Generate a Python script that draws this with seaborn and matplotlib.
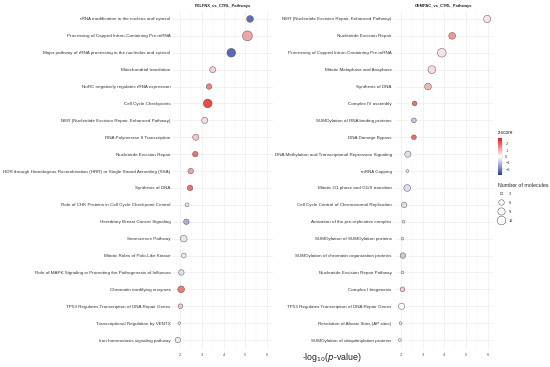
import numpy as np
import pandas as pd
import matplotlib
matplotlib.use("Agg")
import matplotlib.pyplot as plt
import seaborn as sns
from matplotlib.colors import LinearSegmentedColormap, Normalize
from matplotlib.colorbar import ColorbarBase

# ---------------- data ----------------
left_title = "FOLFNX_vs_CTRL_Pathways"
left_pathways = [
    "rRNA modification in the nucleus and cytosol",
    "Processing of Capped Intron-Containing Pre-mRNA",
    "Major pathway of rRNA processing in the nucleolus and cytosol",
    "Mitochondrial translation",
    "NoRC negatively regulates rRNA expression",
    "Cell Cycle Checkpoints",
    "NER (Nucleotide Excision Repair, Enhanced Pathway)",
    "RNA Polymerase II Transcription",
    "Nucleotide Excision Repair",
    "HDR through Homologous Recombination (HRR) or Single Strand Annealing (SSA)",
    "Synthesis of DNA",
    "Role of CHK Proteins in Cell Cycle Checkpoint Control",
    "Hereditary Breast Cancer Signaling",
    "Senescence Pathway",
    "Mitotic Roles of Polo-Like Kinase",
    "Role of MAPK Signaling in Promoting the Pathogenesis of Influenza",
    "Chromatin modifying enzymes",
    "TP53 Regulates Transcription of DNA Repair Genes",
    "Transcriptional Regulation by VENTX",
    "Iron homeostasis signaling pathway",
]
left_logp = [5.21, 5.09, 4.35, 3.50, 3.33, 3.27, 3.13, 2.72, 2.70, 2.49,
             2.46, 2.32, 2.29, 2.17, 2.17, 2.06, 2.05, 2.02, 1.97, 1.90]
left_z = [-2.4, 1.3, -2.5, 0.7, 1.8, 2.6, 0.5, 0.8, 2.0, 1.3,
          2.0, -0.3, -1.3, -0.4, -0.3, -0.5, 1.9, 0.8, -0.2, -0.3]
left_n = [8, 15, 12, 7, 6, 12, 7, 7, 6, 6,
          6, 4, 6, 8, 5, 6, 8, 5, 3, 6]

right_title = "GEMPAC_vs_CTRL_Pathways"
right_pathways = [
    "NER (Nucleotide Excision Repair, Enhanced Pathway)",
    "Nucleotide Excision Repair",
    "Processing of Capped Intron-Containing Pre-mRNA",
    "Mitotic Metaphase and Anaphase",
    "Synthesis of DNA",
    "Complex IV assembly",
    "SUMOylation of RNA binding proteins",
    "DNA Damage Bypass",
    "DNA Methylation and Transcriptional Repression Signaling",
    "mRNA Capping",
    "Mitotic G1 phase and G1/S transition",
    "Cell Cycle Control of Chromosomal Replication",
    "Activation of the pre-replicative complex",
    "SUMOylation of SUMOylation proteins",
    "SUMOylation of chromatin organization proteins",
    "Nucleotide Excision Repair Pathway",
    "Complex I biogenesis",
    "TP53 Regulates Transcription of DNA Repair Genes",
    "Resolution of Abasic Sites (AP sites)",
    "SUMOylation of ubiquitinylation proteins",
]
right_logp = [5.98, 4.36, 3.88, 3.42, 3.24, 2.62, 2.59, 2.59, 2.31, 2.29,
              2.28, 2.14, 2.11, 2.06, 2.08, 2.06, 2.06, 2.02, 1.97, 1.94]
right_z = [0.4, 1.5, 0.4, 0.5, 1.0, 2.0, -0.9, 2.1, -0.5, -0.3,
           -0.5, -0.5, -0.2, -0.2, -0.9, -0.2, 0.8, 0.0, -0.2, -0.2]
right_n = [9, 8, 12, 10, 8, 5, 5, 5, 7, 3,
           8, 6, 3, 3, 6, 3, 5, 7, 3, 3]

legend_sizes = [3, 6, 9, 12]
cbar_ticks = [2, 1, 0, -1, -2]

# ---------------- style ----------------
sns.set_theme(style="white")
plt.rcParams["font.family"] = ["Liberation Sans", "DejaVu Sans"]

cmap = LinearSegmentedColormap.from_list("bwr2", ["#2D3E9E", "#FFFFFF", "#E5201C"])
znorm = Normalize(vmin=-2.9, vmax=2.9)
SMIN, SMAX = 3.8, 50.7
NMIN, NMAX = 3, 15


def size_of(n):
    return SMIN + (n - NMIN) / (NMAX - NMIN) * (SMAX - SMIN)


W, H = 550, 367
fig = plt.figure(figsize=(W / 100, H / 100), dpi=100)
fig.patch.set_facecolor("white")
renderer = fig.canvas.get_renderer()


def fit_size(text, target_px, weight="normal"):
    """font size (pt) so that text spans target_px pixels"""
    t = fig.text(0, 0, text, fontsize=10, fontweight=weight)
    w = t.get_window_extent(renderer=renderer).width
    t.remove()
    return 10 * target_px / w


label_fs = fit_size(left_pathways[9], 165)
title_fs = fit_size(left_title, 57, "bold")
legend_title_fs = fit_size("Number of molecules", 50)

ax_bottom = 1 - 348.5 / H
ax_h = (348.5 - 10.5) / H
axL = fig.add_axes([172.4 / W, ax_bottom, 100.3 / W, ax_h])
axR = fig.add_axes([393.6 / W, ax_bottom, 99.4 / W, ax_h])

panels = [
    (axL, left_title, left_pathways, left_logp, left_z, left_n),
    (axR, right_title, right_pathways, right_logp, right_z, right_n),
]

for ax, title, paths, logp, z, n in panels:
    df = pd.DataFrame({"pathway": paths, "logp": logp, "z": z, "n": n})
    sns.scatterplot(
        data=df, x="logp", y="pathway", hue="z", size="n",
        palette=cmap, hue_norm=znorm, sizes=(SMIN, SMAX),
        size_norm=(NMIN, NMAX), edgecolor="#4a4a4a", linewidth=0.35,
        alpha=0.9, legend=False, ax=ax, zorder=3,
    )
    ax.set_xlim(1.65, 6.25)
    ax.set_ylim(len(paths) - 0.5, -0.5)
    ax.set_xticks([2, 3, 4, 5, 6])
    ax.set_xticks([2.5, 3.5, 4.5, 5.5], minor=True)
    ax.grid(True, which="major", color="#EBEBEB", linewidth=0.45)
    ax.grid(True, which="minor", axis="x", color="#F3F3F3", linewidth=0.3)
    ax.set_axisbelow(True)
    for s in ax.spines.values():
        s.set_visible(False)
    ax.tick_params(axis="y", labelsize=label_fs, pad=1.4, length=0, colors="#333333")
    ax.tick_params(axis="x", labelsize=3.0, pad=3.0, length=0, colors="#555555")
    ax.set_xlabel("")
    ax.set_ylabel("")
    ax.set_title(title, fontsize=title_fs, fontweight="bold", pad=2.2, color="#222222")

fig.text(332 / W, 1 - 357 / H, r"-log$_{10}$($p$-value)", fontsize=6.3,
         ha="center", va="center", color="#222222")

# colorbar
cax = fig.add_axes([497.7 / W, 1 - 175 / H, 4.6 / W, 36.7 / H])
cb = ColorbarBase(cax, cmap=cmap, norm=znorm, orientation="vertical")
cb.set_ticks(cbar_ticks)
cb.outline.set_visible(False)
cax.tick_params(labelsize=2.9, length=1.0, width=0.3, pad=1.2, colors="#444444")
fig.text(497.7 / W, 1 - 133 / H, "z-score", fontsize=3.3, ha="left", va="center",
         color="#222222")

# size legend
handles = [axR.scatter([], [], s=size_of(v), facecolor="white",
                       edgecolor="#4a4a4a", linewidth=0.35) for v in legend_sizes]
leg = fig.legend(handles, [str(v) for v in legend_sizes], title="Number of molecules",
                 loc="upper left", bbox_to_anchor=(497.5 / W, 1 - 183 / H),
                 frameon=False, fontsize=2.8, title_fontsize=legend_title_fs,
                 labelspacing=0.9, handleheight=1.7, handlelength=2.0,
                 handletextpad=1.0, borderpad=0, borderaxespad=0)
leg._legend_box.align = "left"

fig.savefig("out.png", dpi=100, facecolor="white")
